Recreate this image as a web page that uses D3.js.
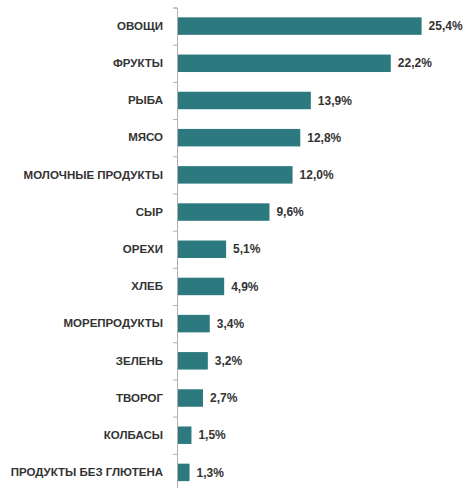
<!DOCTYPE html>
<html>
<head>
<meta charset="utf-8">
<script src="https://cdn.jsdelivr.net/npm/d3@7"></script>
<style>
  body { margin: 0; background: #fff; }
  .label { font-family: "Liberation Sans", Arial, sans-serif; font-weight: bold; font-size: 11.5px; fill: #333; }
  .value { font-size: 12px; }
</style>
</head>
<body>
<div id="chart"></div>
<script>
const categories = ["ОВОЩИ", "ФРУКТЫ", "РЫБА", "МЯСО", "МОЛОЧНЫЕ ПРОДУКТЫ", "СЫР", "ОРЕХИ", "ХЛЕБ",
  "МОРЕПРОДУКТЫ", "ЗЕЛЕНЬ", "ТВОРОГ", "КОЛБАСЫ", "ПРОДУКТЫ БЕЗ ГЛЮТЕНА"];
const values = [25.4, 22.2, 13.9, 12.8, 12.0, 9.6, 5.1, 4.9, 3.4, 3.2, 2.7, 1.5, 1.3];

const width = 466, height = 488;
const axisX = 177;
const plotTop = 7.5, plotBottom = 491;

const svg = d3.select("#chart").append("svg")
  .attr("width", width)
  .attr("height", height);

const x = d3.scaleLinear().domain([0, 1]).range([axisX, axisX + 9.63]);

const y = d3.scaleBand()
  .domain(categories)
  .range([plotTop, plotBottom])
  .paddingInner(0.53)
  .paddingOuter(0.265);

// tick marks between categories
const yEdges = d3.scaleLinear().domain([0, categories.length]).range([plotTop, plotBottom]);

svg.selectAll("rect.bar")
  .data(values)
  .join("rect")
  .attr("class", "bar")
  .attr("x", x(0))
  .attr("y", (d, i) => y(categories[i]))
  .attr("width", d => x(d) - x(0))
  .attr("height", y.bandwidth())
  .attr("fill", "#2c7a80");

const edgeAxis = svg.append("g")
  .attr("transform", `translate(${axisX},0)`)
  .call(d3.axisLeft(yEdges).tickValues(d3.range(categories.length + 1)).tickFormat("").tickSize(4));
edgeAxis.selectAll("path, line").attr("stroke", "#b0b0b0");

const labelAxis = svg.append("g")
  .attr("transform", `translate(${axisX},0)`)
  .call(d3.axisLeft(y).tickSize(0).tickPadding(14));
labelAxis.select(".domain").remove();
labelAxis.selectAll("text")
  .attr("class", "label")
  .attr("font-family", null)
  .attr("font-size", null);

svg.selectAll("text.value")
  .data(values)
  .join("text")
  .attr("class", "label value")
  .attr("x", d => x(d) + 7)
  .attr("y", (d, i) => y(categories[i]) + y.bandwidth() / 2)
  .attr("dy", "0.35em")
  .text(d => d.toFixed(1).replace(".", ",") + "%");
</script>
</body>
</html>
